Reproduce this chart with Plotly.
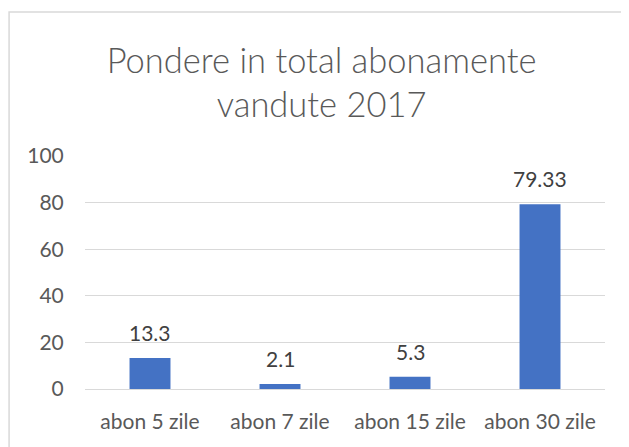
import plotly.graph_objects as go

categories = ["abon 5 zile", "abon 7 zile", "abon 15 zile", "abon 30 zile"]
values = [13.3, 2.1, 5.3, 79.33]
value_labels = ["13.3", "2.1", "5.3", "79.33"]
y_ticks = [0, 20, 40, 60, 80, 100]

FONT = "Lato, 'Open Sans', sans-serif"

fig = go.Figure()
fig.add_trace(go.Bar(
    x=categories, y=values,
    marker=dict(color="#4472C4", line=dict(width=0)),
    width=0.315, hoverinfo="x+y",
))

annotations = [
    dict(x=c, y=v, text=t, xref="x", yref="y", showarrow=False,
         yanchor="bottom", yshift=11,
         font=dict(family=FONT, size=21, color="#404040"))
    for c, v, t in zip(categories, values, value_labels)
]

fig.update_layout(
    width=621, height=439,
    margin=dict(l=77, r=24, t=148, b=58, autoexpand=False),
    paper_bgcolor="white", plot_bgcolor="white",
    showlegend=False,
    title=dict(
        text="Pondere in total abonamente<br>vandute 2017",
        x=0.505, xanchor="center", y=0.853, yanchor="middle",
        xref="container", yref="container",
        font=dict(family=FONT, size=34.5, color="#595959", weight=300),
    ),
    xaxis=dict(
        showgrid=False, showline=False, ticks="",
        tickfont=dict(family=FONT, size=21, color="#595959"),
        ticklabelstandoff=18, automargin=False,
    ),
    yaxis=dict(
        range=[0, 100], tickvals=y_ticks,
        showgrid=True, gridcolor="#D9D9D9", gridwidth=1,
        zeroline=True, zerolinecolor="#D9D9D9", zerolinewidth=1,
        showline=False, ticks="outside", ticklen=16,
        tickcolor="rgba(0,0,0,0)", automargin=False,
        tickfont=dict(family=FONT, size=21, color="#595959"),
    ),
    annotations=annotations,
    shapes=[dict(
        type="rect", xref="paper", yref="paper",
        x0=-0.146, x1=1.06, y0=-0.3, y1=1.618,
        line=dict(color="#D9D9D9", width=1.5), fillcolor="rgba(0,0,0,0)",
        layer="below",
    )],
)

fig.write_html("out.html")
